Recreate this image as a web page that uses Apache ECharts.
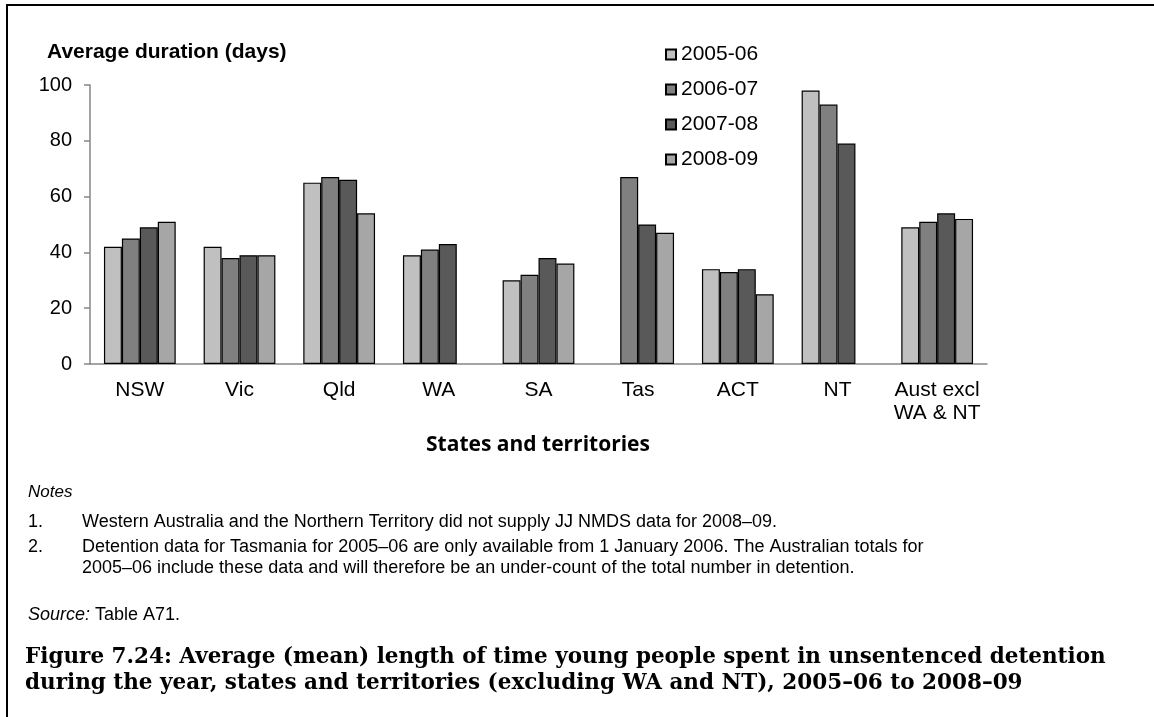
<!DOCTYPE html>
<html>
<head>
<meta charset="utf-8">
<script src="https://cdn.jsdelivr.net/npm/echarts@6/dist/echarts.min.js"></script>
<style>
	html, body { margin: 0; padding: 0; background: #fff; }
	#chart { width: 1154px; height: 717px; }
</style>
</head>
<body>
<div id="chart"></div>
<script>
// 类别 (states and territories)
var categories = ["NSW", "Vic", "Qld", "WA", "SA", "Tas", "ACT", "NT", "Aust excl\nWA & NT"];

// 每年的平均天数, null = no data
var years = ["2005-06", "2006-07", "2007-08", "2008-09"];
var data0506 = [42, 42, 65, 39, 30, null, 34, 98, 49];
var data0607 = [45, 38, 67, 41, 32, 67, 33, 93, 51];
var data0708 = [49, 39, 66, 43, 38, 50, 34, 79, 54];
var data0809 = [51, 39, 54, null, 36, 47, 25, null, 52];

var yTicks = [0, 20, 40, 60, 80, 100];

var notes = [
	"Western Australia and the Northern Territory did not supply JJ NMDS data for 2008\u201309.",
	"Detention data for Tasmania for 2005\u201306 are only available from 1 January 2006. The Australian totals for",
	"2005\u201306 include these data and will therefore be an under-count of the total number in detention."
];
var captionLines = [
	"Figure 7.24: Average (mean) length of time young people spent in unsentenced detention",
	"during the year, states and territories (excluding WA and NT), 2005\u201306 to 2008\u201309"
];

var colors = ["#c0c0c0", "#808080", "#595959", "#a6a6a6"];
var allData = [data0506, data0607, data0708, data0809];

var sans = "Liberation Sans, Arial, sans-serif";
var noteFont = "18px " + sans;
var capFont = "bold 21.5px 'DejaVu Serif', serif";

var myChart = echarts.init(document.getElementById("chart"), null, { renderer: "canvas" });

var series = [];
years.forEach(function(name, i) {
	series.push({
		name: name,
		type: "bar",
		barGap: "0%",
		barCategoryGap: "28%",
		data: allData[i],
		itemStyle: {
			color: colors[i],
			borderColor: "#000",
			borderWidth: 1.2
		}
	});
});

// 文字
function txt(x, y, text, font, align) {
	return {
		type: "text",
		x: x,
		y: y,
		style: {
			text: text,
			font: font,
			fill: "#000",
			align: align || "left",
			verticalAlign: "middle"
		}
	};
}

var graphics = [
	// frame
	{ type: "line", shape: { x1: 7, y1: 5, x2: 7, y2: 717 }, style: { stroke: "#000", lineWidth: 2 } },
	{ type: "line", shape: { x1: 6, y1: 5, x2: 1154, y2: 5 }, style: { stroke: "#000", lineWidth: 2 } },
	txt(47, 52, "Average duration (days)", "bold 21px " + sans),
	txt(538, 445, "States and territories", "bold 21px 'Open Sans', sans-serif", "center"),
	txt(28, 492, "Notes", "italic 17px " + sans),
	txt(28, 522, "1.", noteFont),
	txt(82, 522, notes[0], noteFont),
	txt(28, 547, "2.", noteFont),
	txt(82, 547, notes[1], noteFont),
	txt(82, 568, notes[2], noteFont),
	{
		type: "text",
		x: 28,
		y: 615,
		style: {
			text: "{i|Source:} Table A71.",
			font: noteFont,
			fill: "#000",
			verticalAlign: "middle",
			rich: { i: { fontStyle: "italic", fontSize: 18, fontFamily: sans } }
		}
	},
	txt(25, 657, captionLines[0], capFont),
	txt(25, 683, captionLines[1], capFont)
];

var option = {
	animation: false,
	color: colors,
	grid: {
		left: 90,
		right: 167,
		top: 85,
		bottom: 353,
		containLabel: false
	},
	legend: {
		orient: "vertical",
		left: 660,
		top: 39,
		itemWidth: 10,
		itemHeight: 10,
		itemGap: 14,
		icon: "rect",
		data: years,
		textStyle: {
			fontFamily: sans,
			fontSize: 21,
			color: "#000"
		}
	},
	xAxis: {
		type: "category",
		data: categories,
		axisLine: { lineStyle: { color: "#868686", width: 1.5 } },
		axisTick: { alignWithLabel: true, length: 6, lineStyle: { color: "#868686", width: 1.5 } },
		axisLabel: {
			margin: 15,
			color: "#000",
			fontFamily: sans,
			fontSize: 21,
			lineHeight: 23,
			interval: 0
		}
	},
	yAxis: {
		type: "value",
		min: 0,
		max: 100,
		interval: 20,
		axisLine: { show: true, lineStyle: { color: "#868686", width: 1.5 } },
		axisTick: { show: true, length: 6, lineStyle: { color: "#868686", width: 1.5 } },
		splitLine: { show: false },
		axisLabel: {
			margin: 18,
			color: "#000",
			fontFamily: sans,
			fontSize: 20,
			formatter: function(v) {
				return yTicks.indexOf(v) > -1 ? String(v) : "";
			}
		}
	},
	series: series,
	graphic: graphics
};

myChart.setOption(option, true);
</script>
</body>
</html>
